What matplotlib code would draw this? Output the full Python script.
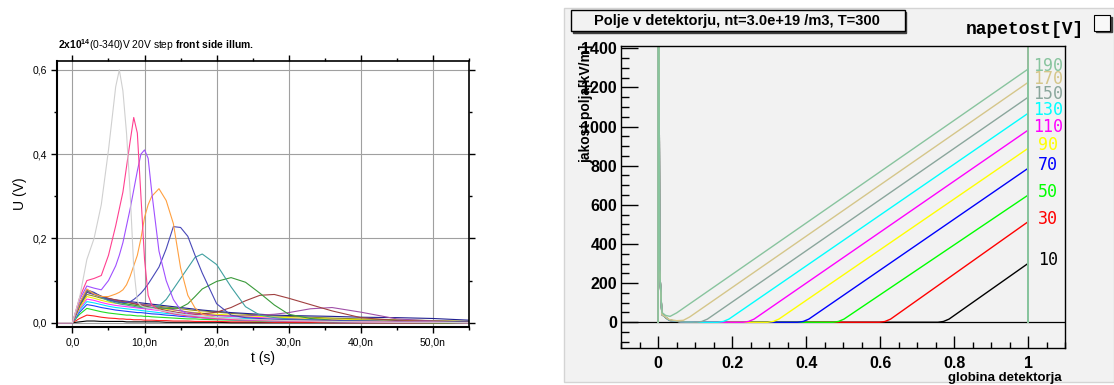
import matplotlib
matplotlib.use('Agg')
import matplotlib.pyplot as plt
from matplotlib.patches import Rectangle
from matplotlib.ticker import FixedLocator, MultipleLocator

plt.rcParams['font.family'] = ['Liberation Sans', 'DejaVu Sans']
plt.rcParams['mathtext.fontset'] = 'custom'
plt.rcParams['mathtext.rm'] = 'Liberation Sans'
plt.rcParams['mathtext.bf'] = 'Liberation Sans:bold'

# ---------------- levi graf: tokovni pulzi ----------------
t_ns = [-2, 0, 1, 2, 3, 4, 5, 6,
        6.5, 7, 7.5, 8, 8.5, 9, 9.5, 10, 10.5, 11,
        12, 13, 14, 15, 16, 17, 18,
        20, 22, 24, 26, 28, 30,
        33, 36, 40, 45, 50, 55]

u_000 = [0, 0, 0.002, 0.004, 0.004, 0.003, 0.003, 0.003,
         0.003, 0.003, 0.002, 0.002, 0.002, 0.002, 0.002, 0.002, 0.002, 0.002,
         0.002, 0.001, 0.001, 0.001, 0.001, 0.001, 0.001,
         0.001, 0, 0, 0, 0, 0,
         0, 0, 0, 0, 0, 0]
u_020 = [0, 0, 0.01, 0.018, 0.016, 0.013, 0.011, 0.01,
         0.009, 0.009, 0.008, 0.008, 0.007, 0.007, 0.007, 0.006, 0.006, 0.006,
         0.005, 0.005, 0.004, 0.004, 0.004, 0.003, 0.003,
         0.003, 0.002, 0.002, 0.002, 0.001, 0.001,
         0.001, 0, 0, 0, 0, 0]
u_040 = [0, 0, 0.02, 0.034, 0.03, 0.026, 0.023, 0.021,
         0.02, 0.019, 0.018, 0.018, 0.017, 0.016, 0.016, 0.015, 0.015, 0.014,
         0.013, 0.012, 0.011, 0.01, 0.009, 0.009, 0.008,
         0.007, 0.006, 0.005, 0.004, 0.004, 0.003,
         0.003, 0.002, 0.002, 0.001, 0, 0]
u_060 = [0, 0, 0.025, 0.043, 0.04, 0.036, 0.033, 0.03,
         0.029, 0.028, 0.027, 0.026, 0.025, 0.024, 0.024, 0.023, 0.022, 0.021,
         0.02, 0.018, 0.017, 0.015, 0.014, 0.013, 0.012,
         0.01, 0.009, 0.008, 0.007, 0.006, 0.005,
         0.004, 0.003, 0.002, 0.002, 0.001, 0]
u_080 = [0, 0, 0.03, 0.05, 0.047, 0.043, 0.039, 0.036,
         0.035, 0.034, 0.033, 0.032, 0.031, 0.03, 0.029, 0.028, 0.027, 0.026,
         0.024, 0.022, 0.021, 0.019, 0.018, 0.016, 0.015,
         0.013, 0.011, 0.01, 0.009, 0.008, 0.007,
         0.006, 0.005, 0.004, 0.003, 0.002, 0.001]
u_100 = [0, 0, 0.033, 0.056, 0.053, 0.048, 0.044, 0.041,
         0.04, 0.039, 0.038, 0.037, 0.036, 0.035, 0.034, 0.033, 0.032, 0.031,
         0.029, 0.027, 0.025, 0.023, 0.022, 0.02, 0.019,
         0.017, 0.015, 0.013, 0.012, 0.011, 0.01,
         0.008, 0.007, 0.005, 0.004, 0.003, 0.002]
u_120 = [0, 0, 0.036, 0.062, 0.058, 0.053, 0.049, 0.046,
         0.045, 0.044, 0.043, 0.042, 0.041, 0.04, 0.039, 0.038, 0.037, 0.036,
         0.034, 0.032, 0.03, 0.028, 0.026, 0.024, 0.023,
         0.02, 0.018, 0.016, 0.015, 0.013, 0.012,
         0.01, 0.009, 0.007, 0.005, 0.004, 0.003]
u_140 = [0, 0, 0.04, 0.067, 0.063, 0.058, 0.054, 0.051,
         0.05, 0.049, 0.048, 0.047, 0.046, 0.045, 0.044, 0.043, 0.042, 0.041,
         0.039, 0.037, 0.035, 0.033, 0.031, 0.029, 0.028,
         0.025, 0.022, 0.02, 0.018, 0.016, 0.015,
         0.013, 0.011, 0.009, 0.007, 0.005, 0.003]
u_160 = [0, 0, 0.042, 0.072, 0.067, 0.061, 0.057, 0.054,
         0.053, 0.052, 0.051, 0.05, 0.049, 0.048, 0.047, 0.046, 0.045, 0.044,
         0.042, 0.04, 0.038, 0.036, 0.034, 0.032, 0.03,
         0.027, 0.024, 0.022, 0.02, 0.018, 0.017,
         0.016, 0.015, 0.013, 0.012, 0.01, 0.006]
u_180 = [0, 0, 0.043, 0.074, 0.068, 0.062, 0.057, 0.053,
         0.052, 0.05, 0.049, 0.048, 0.046, 0.045, 0.044, 0.042, 0.041, 0.04,
         0.037, 0.034, 0.031, 0.028, 0.025, 0.023, 0.021,
         0.017, 0.016, 0.016, 0.018, 0.02, 0.024,
         0.033, 0.036, 0.025, 0.009, 0.004, 0.002]
u_200 = [0, 0, 0.044, 0.076, 0.07, 0.063, 0.058, 0.054,
         0.052, 0.05, 0.049, 0.047, 0.045, 0.043, 0.042, 0.04, 0.038, 0.036,
         0.033, 0.029, 0.026, 0.023, 0.021, 0.02, 0.021,
         0.025, 0.036, 0.052, 0.065, 0.067, 0.058,
         0.043, 0.028, 0.012, 0.005, 0.003, 0.002]
u_220 = [0, 0, 0.044, 0.076, 0.07, 0.062, 0.055, 0.05,
         0.048, 0.046, 0.045, 0.043, 0.042, 0.04, 0.039, 0.038, 0.037, 0.036,
         0.035, 0.034, 0.034, 0.036, 0.045, 0.062, 0.08,
         0.098, 0.107, 0.096, 0.07, 0.042, 0.02,
         0.01, 0.006, 0.004, 0.002, 0.001, 0]
u_240 = [0, 0, 0.045, 0.077, 0.07, 0.06, 0.052, 0.047,
         0.045, 0.043, 0.042, 0.04, 0.039, 0.037, 0.036, 0.035, 0.035, 0.035,
         0.04, 0.055, 0.08, 0.105, 0.13, 0.155, 0.163,
         0.138, 0.085, 0.038, 0.018, 0.012, 0.009,
         0.007, 0.005, 0.004, 0.003, 0.002, 0.001]
u_260 = [0, 0, 0.046, 0.078, 0.072, 0.062, 0.055, 0.05,
         0.049, 0.048, 0.048, 0.05, 0.055, 0.062, 0.07, 0.08, 0.092, 0.105,
         0.132, 0.175, 0.228, 0.226, 0.205, 0.16, 0.118,
         0.045, 0.018, 0.012, 0.01, 0.008, 0.007,
         0.006, 0.005, 0.004, 0.003, 0.002, 0.001]
u_280 = [0, 0, 0.047, 0.08, 0.068, 0.062, 0.062, 0.068,
         0.072, 0.078, 0.09, 0.11, 0.135, 0.16, 0.2, 0.25, 0.28, 0.3,
         0.318, 0.29, 0.235, 0.13, 0.065, 0.035, 0.02,
         0.012, 0.009, 0.007, 0.006, 0.005, 0.004,
         0.003, 0.003, 0.002, 0.001, 0.001, 0]
u_300 = [0, 0, 0.055, 0.087, 0.082, 0.078, 0.1, 0.135,
         0.16, 0.19, 0.23, 0.27, 0.315, 0.36, 0.4, 0.41, 0.39, 0.31,
         0.17, 0.1, 0.055, 0.03, 0.02, 0.015, 0.012,
         0.009, 0.007, 0.006, 0.005, 0.004, 0.004,
         0.003, 0.002, 0.002, 0.001, 0.001, 0]
u_320 = [0, 0, 0.06, 0.1, 0.105, 0.112, 0.16, 0.23,
         0.27, 0.31, 0.37, 0.43, 0.487, 0.45, 0.3, 0.15, 0.065, 0.042,
         0.03, 0.025, 0.021, 0.018, 0.016, 0.014, 0.012,
         0.01, 0.008, 0.007, 0.006, 0.005, 0.004,
         0.003, 0.003, 0.002, 0.001, 0.001, 0]
u_340 = [0, 0, 0.06, 0.15, 0.2, 0.28, 0.41, 0.56,
         0.6, 0.55, 0.45, 0.31, 0.13, 0.05, 0.04, 0.037, 0.035, 0.034,
         0.03, 0.027, 0.024, 0.021, 0.019, 0.017, 0.015,
         0.012, 0.01, 0.008, 0.007, 0.006, 0.005,
         0.004, 0.003, 0.002, 0.001, 0.001, 0]

pulzi = [u_000, u_020, u_040, u_060, u_080, u_100, u_120, u_140, u_160,
         u_180, u_200, u_220, u_240, u_260, u_280, u_300, u_320, u_340]
barve_l = ['#000000', '#ff2020', '#22dd22', '#2040ff', '#00e5ff', '#ff30ff',
           '#f0f000', '#909020', '#202090', '#a050a8', '#a04040', '#3a9a3a',
           '#40a0a0', '#4848b8', '#ffa040', '#a050ff', '#ff4090', '#d0d0d0']

x_ticks_l = [0, 10, 20, 30, 40, 50]
x_labels_l = ['0,0', '10,0n', '20,0n', '30,0n', '40,0n', '50,0n']
y_ticks_l = [0, 0.2, 0.4, 0.6]
y_labels_l = ['0,0', '0,2', '0,4', '0,6']

# ---------------- desni graf: polje v detektorju ----------------
napetosti = [10, 30, 50, 70, 90, 110, 130, 150, 170, 190]
g_10 = [0, 0, 0.004, 0.01, 0.03, 0.06, 0.1, 0.756, 0.771, 0.786, 1, 1, 1]
e_10 = [0, 3000, 270, 40, 10, 3, 0, 0, 4, 16, 301, 0, 3000]
g_30 = [0, 0, 0.004, 0.01, 0.03, 0.06, 0.1, 0.598, 0.613, 0.628, 1, 1, 1]
e_30 = [0, 3000, 270, 40, 10, 3, 0, 0, 4, 16, 514, 0, 3000]
g_50 = [0, 0, 0.004, 0.01, 0.03, 0.06, 0.1, 0.472, 0.487, 0.502, 1, 1, 1]
e_50 = [0, 3000, 270, 40, 10, 3, 0, 0, 4, 16, 650, 0, 3000]
g_70 = [0, 0, 0.004, 0.01, 0.03, 0.06, 0.1, 0.377, 0.392, 0.407, 1, 1, 1]
e_70 = [0, 3000, 270, 40, 10, 3, 0, 0, 4, 16, 787, 0, 3000]
g_90 = [0, 0, 0.004, 0.01, 0.03, 0.06, 0.1, 0.296, 0.311, 0.326, 1, 1, 1]
e_90 = [0, 3000, 270, 40, 10, 3, 0, 0, 4, 16, 889, 0, 3000]
g_110 = [0, 0, 0.004, 0.01, 0.03, 0.06, 0.1, 0.229, 0.244, 0.259, 1, 1, 1]
e_110 = [0, 3000, 270, 40, 10, 3, 0, 0, 4, 16, 982, 0, 3000]
g_130 = [0, 0, 0.004, 0.01, 0.03, 0.06, 0.1, 0.161, 0.176, 0.191, 1, 1, 1]
e_130 = [0, 3000, 270, 40, 10, 3, 0, 0, 4, 16, 1068, 0, 3000]
g_150 = [0, 0, 0.004, 0.01, 0.03, 0.06, 0.103, 0.118, 0.133, 1, 1, 1]
e_150 = [0, 3000, 270, 40, 10, 3, 0, 4, 16, 1150, 0, 3000]
g_170 = [0, 0, 0.004, 0.01, 0.03, 0.05, 0.068, 0.085, 1, 1, 1]
e_170 = [0, 3000, 270, 40, 14, 8, 10, 27, 1226, 0, 3000]
g_190 = [0, 0, 0.004, 0.01, 0.02, 0.032, 0.05, 1, 1, 1]
e_190 = [0, 3000, 270, 50, 35, 30, 48, 1294, 0, 3000]

globine = [g_10, g_30, g_50, g_70, g_90, g_110, g_130, g_150, g_170, g_190]
polja = [e_10, e_30, e_50, e_70, e_90, e_110, e_130, e_150, e_170, e_190]
barve_r = ['#000000', '#ff0000', '#00ff00', '#0000ff', '#ffff00',
           '#ff00ff', '#00ffff', '#8aa69c', '#d5c68a', '#88c49e']

W, H = 1114, 385
fig = plt.figure(figsize=(W / 100, H / 100), dpi=100)

# ---- levi graf ----
ax = fig.add_axes([57.3 / W, 1 - 326.7 / H, (469 - 57.3) / W, (326.7 - 61) / H])
for u, c in zip(pulzi, barve_l):
    ax.plot(t_ns, u, color=c, lw=0.8)
ax.set_xlim(-2.1, 55)
ax.set_ylim(-0.0095, 0.621)
ax.xaxis.set_major_locator(FixedLocator(x_ticks_l))
ax.set_xticklabels(x_labels_l)
ax.xaxis.set_minor_locator(MultipleLocator(5))
ax.yaxis.set_major_locator(FixedLocator(y_ticks_l))
ax.set_yticklabels(y_labels_l)
ax.yaxis.set_minor_locator(MultipleLocator(0.1))
ax.grid(True, which='major', color='#a0a0a0', lw=0.8)
ax.tick_params(which='both', labelsize=7.5, width=1.0, top=True, right=True)
ax.tick_params(which='major', length=4)
ax.tick_params(which='minor', length=2.5)
ax.tick_params(axis='x', which='both', direction='out')
ax.tick_params(axis='y', which='both', direction='out')
for s in ['left', 'bottom']:
    ax.spines[s].set_linewidth(1.5)
for s in ['top', 'right']:
    ax.spines[s].set_linewidth(1.2)
ax.set_xlabel('t (s)', fontsize=10, labelpad=3)
ax.set_ylabel('U (V)', fontsize=10, labelpad=4)
fig.text(58 / W, 1 - 45 / H,
         r'$\mathbf{2x10^{14}}$(0-340)V 20V step $\mathbf{front\ side\ illum.}$',
         fontsize=7.4, ha='left', va='center')

# ---- desni graf (ROOT) ----
fig.patches.append(Rectangle((564 / W, 1 - 381.7 / H), (W - 564) / W, (381.7 - 8.3) / H,
                             transform=fig.transFigure, facecolor='#f2f2f2',
                             edgecolor='#d4d4d4', lw=1.0, zorder=-5))

ax2 = fig.add_axes([621.2 / W, 1 - 347.5 / H, (1065.2 - 621.2) / W, (347.5 - 45.7) / H])
ax2.set_facecolor('#f2f2f2')
ax2.axhline(0, color='black', lw=0.9, zorder=1.5)
for g, e, c in zip(globine, polja, barve_r):
    ax2.plot(g, e, color=c, lw=1.0, zorder=2)
for v, e, c in zip(napetosti, polja, barve_r):
    ax2.text(1.053, e[-3] + 15, str(v), color=c, fontsize=12,
             family='DejaVu Sans Mono', ha='center', va='center')
ax2.set_xlim(-0.1, 1.1)
ax2.set_ylim(-129, 1413)
ax2.xaxis.set_minor_locator(MultipleLocator(0.05))
ax2.yaxis.set_major_locator(MultipleLocator(200))
ax2.yaxis.set_minor_locator(MultipleLocator(50))
ax2.set_xticks([0, 0.2, 0.4, 0.6, 0.8, 1.0])
ax2.set_xticklabels(['0', '0.2', '0.4', '0.6', '0.8', '1'])
ax2.tick_params(which='both', direction='in', top=False, right=False, width=1.0,
                labelsize=11.5)
ax2.tick_params(axis='y', which='major', length=12, pad=3)
ax2.tick_params(axis='y', which='minor', length=6)
ax2.tick_params(axis='x', which='major', length=9, pad=6)
ax2.tick_params(axis='x', which='minor', length=4.5)
for lab in ax2.get_xticklabels() + ax2.get_yticklabels():
    lab.set_fontweight('bold')
for s in ax2.spines.values():
    s.set_linewidth(1.0)

fig.text(1062 / W, 1 - 378 / H, 'globina detektorja', fontsize=9.5, fontweight='bold',
         ha='right', va='center')
fig.text(586 / W, 1 - 45 / H, 'jakost polja[kV/m]', fontsize=10, fontweight='bold',
         rotation=90, ha='center', va='top')

# naslovni okvir
fig.patches.append(Rectangle((573 / W, 1 - 32.5 / H), (904.5 - 571.3) / W, (30.7 - 10) / H,
                             transform=fig.transFigure, facecolor='#404040',
                             edgecolor='#404040', lw=1.0, zorder=1))
fig.patches.append(Rectangle((571.3 / W, 1 - 30.7 / H), (904.5 - 571.3) / W, (30.7 - 10) / H,
                             transform=fig.transFigure, facecolor='#f2f2f2',
                             edgecolor='black', lw=1.0, zorder=2))
fig.text(737 / W, 1 - 20.5 / H, 'Polje v detektorju, nt=3.0e+19 /m3, T=300',
         fontsize=10.5, fontweight='bold', ha='center', va='center')

# legenda
fig.text(1025 / W, 1 - 29 / H, 'napetost[V]', family='Liberation Mono', fontweight='bold',
         fontsize=13, ha='center', va='center')
fig.patches.append(Rectangle((1096 / W, 1 - 32 / H), 16 / W, 15.5 / H,
                             transform=fig.transFigure, facecolor='#404040',
                             edgecolor='#404040', lw=1.0, zorder=1))
fig.patches.append(Rectangle((1094 / W, 1 - 30.5 / H), 16 / W, 15.5 / H,
                             transform=fig.transFigure, facecolor='#f8f8f8',
                             edgecolor='black', lw=0.8, zorder=2))

fig.savefig('out.png', dpi=100)
